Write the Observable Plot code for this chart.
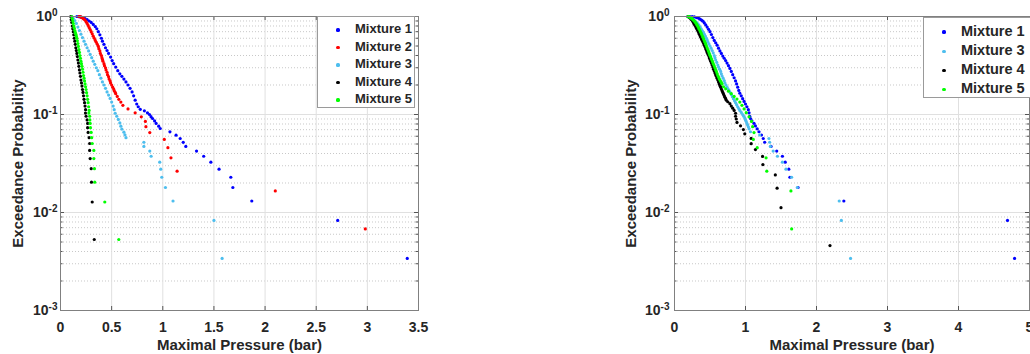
<!DOCTYPE html>
<html>
<head>
<meta charset="utf-8">
<script src="https://cdn.jsdelivr.net/npm/d3@7"></script>
<script src="https://cdn.jsdelivr.net/npm/@observablehq/plot@0.6"></script>
<style>
  html, body { margin: 0; padding: 0; background: #fff; overflow: hidden; }
  #fig { position: relative; width: 1030px; height: 354px; overflow: hidden; font-family: "Liberation Sans", Arial, sans-serif; }
  .panel { position: absolute; top: 0; }
  .legend { position: absolute; background: #fff; border: 1px solid #9a9a9a; box-sizing: border-box; font-weight: bold; color: #262626; }
  .legend .dot { position: absolute; border-radius: 50%; }
  .legend .lab { position: absolute; white-space: nowrap; }
</style>
</head>
<body>
<div id="fig"></div>
<script>
// ---------------- data (pressure in bar, exceedance probability) ----------------
const leftMix1 = [[0.16,1.0],[0.18,0.995],[0.2,0.985],[0.22,0.97],[0.24,0.95],[0.26,0.93],[0.28,0.9],[0.3,0.87],[0.32,0.83],[0.34,0.79],[0.355,0.75],[0.37,0.7],[0.385,0.65],[0.4,0.6],[0.41,0.56],[0.425,0.52],[0.44,0.48],[0.455,0.45],[0.47,0.42],[0.49,0.385],[0.505,0.355],[0.52,0.33],[0.54,0.305],[0.56,0.28],[0.58,0.26],[0.6,0.245],[0.62,0.23],[0.64,0.215],[0.66,0.2],[0.68,0.185],[0.7,0.17],[0.715,0.155],[0.73,0.14],[0.745,0.128],[0.76,0.12],[0.78,0.113],[0.82,0.109],[0.85,0.104],[0.87,0.1],[0.885,0.095],[0.9,0.091],[0.92,0.086],[0.935,0.081],[0.96,0.076],[0.975,0.072],[1.07,0.0665],[1.13,0.0615],[1.17,0.0569],[1.2,0.052],[1.225,0.0472],[1.33,0.0423],[1.4,0.0375],[1.47,0.0326],[1.55,0.0277],[1.665,0.0229],[1.685,0.018],[1.87,0.0131],[2.71,0.0083],[3.39,0.0034]];
const leftMix2 = [[0.18,1.0],[0.19,0.995],[0.2,0.99],[0.21,0.975],[0.22,0.96],[0.23,0.94],[0.24,0.92],[0.25,0.885],[0.26,0.85],[0.27,0.81],[0.28,0.77],[0.29,0.735],[0.3,0.7],[0.31,0.665],[0.32,0.63],[0.33,0.6],[0.34,0.57],[0.35,0.545],[0.36,0.52],[0.37,0.495],[0.375,0.47],[0.385,0.445],[0.39,0.42],[0.4,0.4],[0.405,0.38],[0.41,0.365],[0.415,0.35],[0.425,0.33],[0.43,0.315],[0.44,0.3],[0.445,0.285],[0.455,0.27],[0.46,0.255],[0.47,0.243],[0.475,0.23],[0.485,0.22],[0.49,0.21],[0.5,0.2],[0.51,0.19],[0.52,0.182],[0.525,0.175],[0.535,0.168],[0.54,0.163],[0.555,0.153],[0.57,0.143],[0.59,0.134],[0.61,0.124],[0.66,0.114],[0.73,0.104],[0.79,0.0947],[0.83,0.085],[0.835,0.0752],[0.873,0.0654],[1.015,0.0557],[1.05,0.0459],[1.08,0.0361],[1.14,0.0264],[2.1,0.0166],[2.98,0.0068]];
const leftMix3 = [[0.11,1.0],[0.125,0.96],[0.14,0.91],[0.155,0.85],[0.17,0.78],[0.185,0.72],[0.2,0.66],[0.215,0.61],[0.23,0.56],[0.245,0.52],[0.26,0.48],[0.275,0.445],[0.29,0.41],[0.305,0.38],[0.32,0.35],[0.335,0.325],[0.35,0.3],[0.365,0.28],[0.38,0.255],[0.395,0.235],[0.41,0.215],[0.425,0.2],[0.44,0.185],[0.455,0.17],[0.47,0.158],[0.485,0.146],[0.5,0.134],[0.515,0.122],[0.525,0.112],[0.535,0.103],[0.55,0.096],[0.565,0.089],[0.58,0.082],[0.59,0.076],[0.6,0.071],[0.62,0.066],[0.63,0.062],[0.64,0.058],[0.815,0.0521],[0.815,0.0472],[0.873,0.0423],[0.886,0.0375],[0.97,0.0326],[0.98,0.0277],[0.99,0.0229],[1.026,0.018],[1.1,0.0131],[1.5,0.0083],[1.58,0.0034]];
const leftMix4 = [[0.1,1.0],[0.105,0.93],[0.11,0.87],[0.115,0.8],[0.12,0.75],[0.125,0.7],[0.13,0.65],[0.135,0.6],[0.14,0.56],[0.145,0.52],[0.15,0.48],[0.155,0.45],[0.16,0.42],[0.165,0.39],[0.17,0.36],[0.175,0.335],[0.18,0.31],[0.185,0.285],[0.19,0.265],[0.195,0.245],[0.2,0.225],[0.205,0.21],[0.21,0.195],[0.215,0.18],[0.22,0.168],[0.225,0.155],[0.23,0.143],[0.235,0.132],[0.24,0.122],[0.245,0.112],[0.244,0.1035],[0.25,0.096],[0.26,0.088],[0.265,0.081],[0.265,0.0733],[0.27,0.0657],[0.28,0.058],[0.285,0.0506],[0.285,0.043],[0.29,0.0355],[0.3,0.028],[0.303,0.0204],[0.31,0.0128],[0.33,0.0053]];
const leftMix5 = [[0.11,1.0],[0.115,0.95],[0.12,0.9],[0.125,0.85],[0.13,0.8],[0.135,0.76],[0.14,0.72],[0.145,0.69],[0.15,0.66],[0.155,0.63],[0.16,0.6],[0.165,0.565],[0.17,0.53],[0.175,0.495],[0.18,0.46],[0.185,0.43],[0.19,0.4],[0.195,0.375],[0.2,0.35],[0.205,0.33],[0.21,0.31],[0.215,0.29],[0.22,0.27],[0.225,0.25],[0.23,0.235],[0.235,0.22],[0.24,0.205],[0.245,0.192],[0.25,0.18],[0.255,0.167],[0.26,0.155],[0.265,0.143],[0.27,0.132],[0.275,0.12],[0.28,0.11],[0.277,0.1035],[0.285,0.096],[0.287,0.088],[0.29,0.081],[0.293,0.0733],[0.3,0.0657],[0.305,0.058],[0.31,0.0506],[0.326,0.043],[0.326,0.0355],[0.332,0.028],[0.335,0.0204],[0.433,0.0128],[0.57,0.0053]];

const rightMix1 = [[0.19,1.0],[0.22,0.998],[0.25,0.995],[0.28,0.99],[0.31,0.975],[0.34,0.96],[0.36,0.94],[0.38,0.92],[0.4,0.895],[0.42,0.86],[0.44,0.82],[0.46,0.78],[0.48,0.74],[0.5,0.7],[0.52,0.655],[0.54,0.61],[0.56,0.57],[0.58,0.54],[0.6,0.51],[0.62,0.475],[0.64,0.445],[0.66,0.42],[0.68,0.395],[0.7,0.375],[0.72,0.355],[0.74,0.335],[0.76,0.315],[0.78,0.295],[0.8,0.275],[0.82,0.255],[0.84,0.237],[0.86,0.22],[0.875,0.205],[0.89,0.19],[0.905,0.176],[0.92,0.165],[0.94,0.155],[0.96,0.145],[0.98,0.136],[1.0,0.128],[1.02,0.12],[1.04,0.112],[1.05,0.104],[1.06,0.0958],[1.07,0.091],[1.09,0.0861],[1.12,0.0812],[1.14,0.0764],[1.165,0.0715],[1.19,0.0667],[1.225,0.0618],[1.25,0.0569],[1.27,0.0521],[1.36,0.0472],[1.44,0.0423],[1.52,0.0375],[1.56,0.0326],[1.61,0.0277],[1.625,0.0229],[1.74,0.018],[2.385,0.0131],[4.69,0.0083],[4.79,0.0034]];
const rightMix3 = [[0.19,1.0],[0.22,0.985],[0.245,0.96],[0.27,0.93],[0.29,0.9],[0.31,0.87],[0.33,0.84],[0.345,0.81],[0.36,0.78],[0.375,0.75],[0.39,0.72],[0.405,0.69],[0.42,0.66],[0.435,0.63],[0.45,0.6],[0.46,0.575],[0.47,0.55],[0.485,0.525],[0.5,0.5],[0.515,0.475],[0.53,0.45],[0.545,0.425],[0.56,0.4],[0.57,0.38],[0.58,0.36],[0.595,0.34],[0.61,0.32],[0.62,0.305],[0.635,0.29],[0.65,0.275],[0.66,0.26],[0.67,0.247],[0.685,0.235],[0.7,0.222],[0.71,0.21],[0.725,0.2],[0.74,0.19],[0.755,0.182],[0.77,0.175],[0.785,0.167],[0.8,0.16],[0.815,0.152],[0.83,0.145],[0.845,0.138],[0.86,0.132],[0.875,0.126],[0.89,0.12],[0.905,0.115],[0.92,0.11],[0.94,0.105],[0.96,0.1],[0.975,0.096],[0.99,0.092],[1.0,0.088],[1.01,0.085],[1.02,0.081],[1.03,0.078],[1.04,0.075],[1.05,0.0715],[1.07,0.0667],[1.2,0.0618],[1.33,0.0569],[1.34,0.0521],[1.35,0.0472],[1.39,0.0423],[1.45,0.0375],[1.52,0.0326],[1.57,0.0277],[1.65,0.0229],[1.73,0.018],[2.32,0.0131],[2.35,0.0083],[2.48,0.0034]];
const rightMix4 = [[0.19,1.0],[0.2,0.99],[0.21,0.98],[0.22,0.965],[0.23,0.95],[0.24,0.93],[0.25,0.91],[0.26,0.885],[0.27,0.86],[0.28,0.835],[0.29,0.81],[0.3,0.785],[0.31,0.76],[0.32,0.735],[0.33,0.71],[0.34,0.685],[0.35,0.66],[0.36,0.635],[0.37,0.615],[0.38,0.59],[0.39,0.57],[0.4,0.55],[0.41,0.53],[0.42,0.51],[0.43,0.49],[0.44,0.47],[0.45,0.45],[0.46,0.43],[0.47,0.415],[0.48,0.4],[0.49,0.38],[0.5,0.365],[0.51,0.35],[0.52,0.335],[0.53,0.32],[0.54,0.305],[0.55,0.29],[0.56,0.278],[0.57,0.265],[0.58,0.255],[0.59,0.245],[0.6,0.235],[0.61,0.225],[0.62,0.215],[0.63,0.205],[0.64,0.197],[0.65,0.19],[0.66,0.182],[0.67,0.175],[0.68,0.168],[0.69,0.162],[0.7,0.156],[0.71,0.15],[0.72,0.145],[0.73,0.14],[0.75,0.135],[0.78,0.129],[0.8,0.122],[0.82,0.116],[0.84,0.11],[0.86,0.103],[0.86,0.096],[0.87,0.09],[0.88,0.083],[0.93,0.0766],[0.97,0.0701],[0.99,0.0635],[1.08,0.057],[1.08,0.0504],[1.14,0.0439],[1.24,0.0373],[1.245,0.0308],[1.42,0.0242],[1.445,0.0177],[1.5,0.0112],[2.19,0.0046]];
const rightMix5 = [[0.19,1.0],[0.2,0.995],[0.21,0.99],[0.22,0.98],[0.23,0.97],[0.24,0.958],[0.25,0.945],[0.26,0.93],[0.27,0.915],[0.28,0.898],[0.29,0.88],[0.3,0.86],[0.31,0.84],[0.32,0.815],[0.33,0.79],[0.34,0.765],[0.35,0.74],[0.36,0.715],[0.37,0.69],[0.38,0.665],[0.39,0.64],[0.4,0.615],[0.41,0.59],[0.42,0.568],[0.43,0.545],[0.44,0.522],[0.45,0.5],[0.46,0.48],[0.47,0.46],[0.48,0.44],[0.49,0.42],[0.5,0.402],[0.51,0.385],[0.52,0.37],[0.53,0.355],[0.54,0.34],[0.55,0.325],[0.56,0.312],[0.57,0.3],[0.58,0.287],[0.59,0.275],[0.6,0.262],[0.61,0.25],[0.62,0.241],[0.63,0.232],[0.64,0.225],[0.65,0.218],[0.66,0.211],[0.67,0.205],[0.69,0.192],[0.72,0.1826],[0.76,0.1729],[0.8,0.163],[0.84,0.153],[0.88,0.1436],[0.92,0.1338],[0.95,0.124],[0.98,0.114],[1.01,0.1045],[1.05,0.0947],[1.085,0.085],[1.1,0.0752],[1.12,0.0654],[1.11,0.0557],[1.165,0.0459],[1.29,0.0361],[1.3,0.0264],[1.64,0.0166],[1.65,0.0068]];

const leftNames  = ["Mixture 1", "Mixture 2", "Mixture 3", "Mixture 4", "Mixture 5"];
const leftColors = ["#0000ff", "#ff0000", "#4dbeee", "#000000", "#00ff00"];
const leftData   = [leftMix1, leftMix2, leftMix3, leftMix4, leftMix5];

const rightNames  = ["Mixture 1", "Mixture 3", "Mixture 4", "Mixture 5"];
const rightColors = ["#0000ff", "#4dbeee", "#000000", "#00ff00"];
const rightData   = [rightMix1, rightMix3, rightMix4, rightMix5];

const xTicksLeft  = [0, 0.5, 1, 1.5, 2, 2.5, 3, 3.5];
const xTicksRight = [0, 1, 2, 3, 4, 5];
const yTicks      = [0.001, 0.01, 0.1, 1];
const yTickLabels = ["10^-3", "10^-2", "10^-1", "10^0"];
const yMinor = [2,3,4,5,6,7,8,9].flatMap(k => [k * 1e-3, k * 1e-2, k * 1e-1]);
const xTitle = "Maximal Pressure (bar)";
const yTitle = "Exceedance Probability";

// ---------------- drawing ----------------
const H = 354, MT = 16, MB = 44, AX = "#555";
const fig = document.getElementById("fig");

function panel({left, width, ml, mr, xDomain, xTicks, names, colors, data, yPad, dxY, dyX}) {
  const fw = width - ml - mr, fh = H - MT - MB;
  const series = names.map((n, i) => ({name: n, color: colors[i], data: data[i]}));
  const svg = Plot.plot({
    width, height: H, marginLeft: ml, marginRight: mr, marginTop: MT, marginBottom: MB,
    style: {fontFamily: "'Liberation Sans', Arial, sans-serif", fontSize: "14px", fontWeight: "bold", color: "#262626", background: "transparent", overflow: "visible"},
    x: {domain: xDomain, ticks: xTicks, tickFormat: d => String(d), tickSize: 0, tickPadding: 12, label: null},
    y: {type: "log", domain: [1e-3, 1], ticks: yTicks, tickFormat: d => yTickLabels[yTicks.indexOf(d)], tickSize: 0, tickPadding: yPad, label: null},
    marks: [
      Plot.ruleY(yMinor, {y: d => d, stroke: "#c8c8c8", strokeDasharray: "1,2"}),
      Plot.ruleY(yTicks, {y: d => d, stroke: "#e0e0e0"}),
      Plot.ruleX(xTicks, {x: d => d, stroke: "#e0e0e0"}),
      Plot.tickX(xTicks, {x: d => d, stroke: AX, insetTop: fh - 4}),
      Plot.tickX(xTicks, {x: d => d, stroke: AX, insetBottom: fh - 4}),
      Plot.tickY(yTicks, {y: d => d, stroke: AX, insetRight: fw - 4}),
      Plot.tickY(yTicks, {y: d => d, stroke: AX, insetLeft: fw - 4}),
      Plot.tickY(yMinor, {y: d => d, stroke: AX, insetRight: fw - 2.5}),
      Plot.tickY(yMinor, {y: d => d, stroke: AX, insetLeft: fw - 2.5}),
      ...series.map(s => Plot.dot(s.data, {x: d => d[0], y: d => d[1], r: 1.6, fill: s.color, stroke: "none"})),
      Plot.frame({stroke: "#808080"}),
      Plot.text([xTitle], {text: d => d, frameAnchor: "bottom", textAnchor: "middle", lineAnchor: "middle", dy: dyX, fontSize: 15, fontWeight: "bold", fill: "#262626"}),
      Plot.text([yTitle], {text: d => d, frameAnchor: "left", textAnchor: "middle", lineAnchor: "middle", dx: dxY, rotate: -90, fontSize: 15, fontWeight: "bold", fill: "#262626"})
    ]
  });
  svg.classList.add("panel");
  svg.style.left = left + "px";
  // superscript exponents on the log tick labels
  d3.select(svg).selectAll("text").filter(function () { return this.textContent.includes("^") && this.children.length === 0; })
    .each(function () {
      const [base, exp] = this.textContent.split("^");
      const t = d3.select(this);
      t.text(base);
      t.append("tspan").attr("dy", "-0.5em").attr("font-size", "10px").text(exp);
    });
  fig.appendChild(svg);
}

function legend({left, top, width, height, dotX, textX, rowY0, step, fontSize, names, colors}) {
  const box = document.createElement("div");
  box.className = "legend";
  Object.assign(box.style, {left: left + "px", top: top + "px", width: width + "px", height: height + "px", fontSize: fontSize + "px"});
  names.forEach((n, i) => {
    const cy = rowY0 + i * step - top;
    const dot = document.createElement("div");
    dot.className = "dot";
    Object.assign(dot.style, {left: (dotX - left - 1.6) + "px", top: (cy - 1.6) + "px", width: "3.2px", height: "3.2px", background: colors[i]});
    const lab = document.createElement("div");
    lab.className = "lab";
    lab.textContent = n;
    Object.assign(lab.style, {left: (textX - left) + "px", top: (cy - fontSize * 0.58) + "px", lineHeight: "1"});
    box.appendChild(dot);
    box.appendChild(lab);
  });
  fig.appendChild(box);
}

panel({left: 0, width: 440, ml: 60, mr: 22, xDomain: [0, 3.5], xTicks: xTicksLeft,
       names: leftNames, colors: leftColors, data: leftData, yPad: 3, dxY: -42, dyX: 35});
panel({left: 580, width: 450, ml: 94, mr: 1, xDomain: [0, 5], xTicks: xTicksRight,
       names: rightNames, colors: rightColors, data: rightData, yPad: 5, dxY: -43, dyX: 35});

legend({left: 317, top: 16, width: 98, height: 92, dotX: 337, textX: 354, rowY0: 29, step: 17.5, fontSize: 13,
        names: leftNames, colors: leftColors});
legend({left: 923, top: 17, width: 120, height: 81, dotX: 943, textX: 960, rowY0: 31, step: 19.3, fontSize: 14.5,
        names: rightNames, colors: rightColors});
</script>
</body>
</html>
